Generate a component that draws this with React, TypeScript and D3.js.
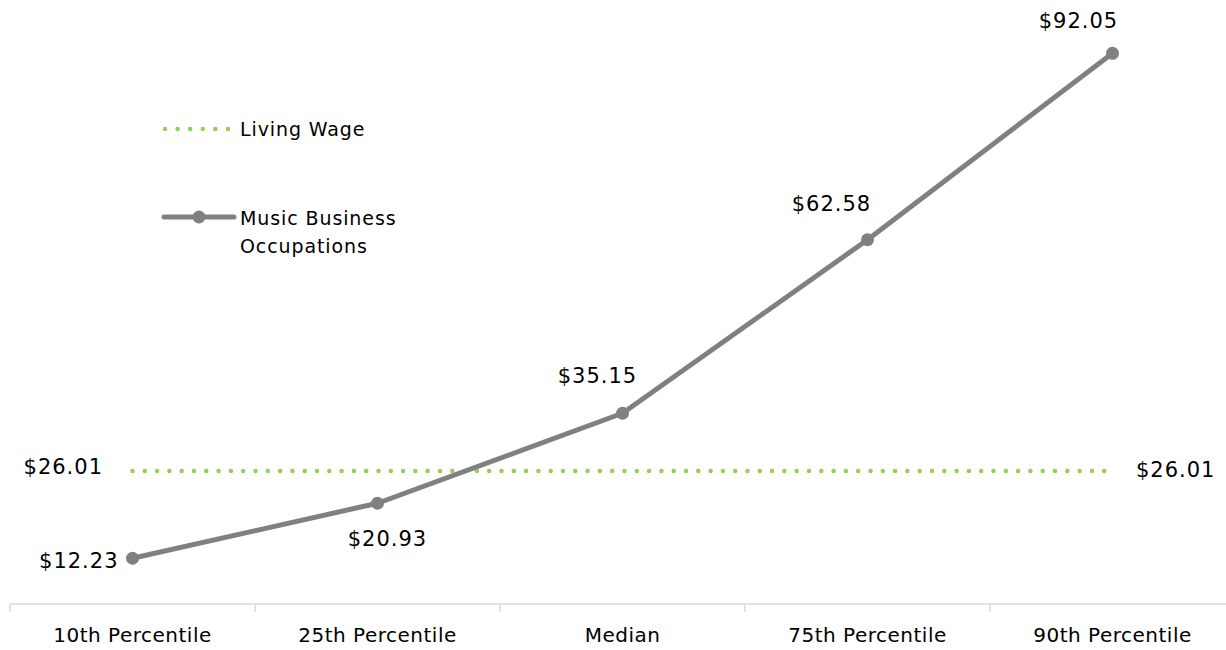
import React from "react";
import * as d3 from "d3";

const categories = ["10th Percentile", "25th Percentile", "Median", "75th Percentile", "90th Percentile"];
const musicWages = [12.23, 20.93, 35.15, 62.58, 92.05];
const livingWage = 26.01;
const seriesNames = ["Living Wage", "Music Business Occupations"];

// label offsets (styling) relative to each point: [dx, dy, anchor]
const labelOffsets: [number, number, string][] = [
  [-14, 10, "end"],
  [10, 43, "middle"],
  [-25, -30, "middle"],
  [-36, -29, "middle"],
  [-34, -25, "middle"],
];

const W = 1226;
const H = 650;
const FONT = "'DejaVu Sans', sans-serif";
const GREEN = "#92d050";
const GRAY = "#808080";

export default function App() {
  const x = d3.scaleBand().domain(categories).range([10, 1235]).paddingInner(0).paddingOuter(0);
  const y = d3.scaleLinear().domain([5, 100]).range([604, 3]);
  const cx = (c: string) => (x(c) as number) + x.bandwidth() / 2;

  const line = d3
    .line<number>()
    .x((_, i) => cx(categories[i]))
    .y((d) => y(d));

  const lwY = y(livingWage);
  const lwX0 = cx(categories[0]);
  const lwX1 = cx(categories[categories.length - 1]) - 8;

  const fmt = (v: number) => "$" + v.toFixed(2);
  const ticks = [...categories.map((c) => x(c) as number), (x(categories[4]) as number) + x.bandwidth()];

  const numStyle = { fontFamily: FONT, fontSize: 21, letterSpacing: 1, fill: "#000" } as const;
  const catStyle = { fontFamily: FONT, fontSize: 20, letterSpacing: 0.5, fill: "#000" } as const;
  const legStyle = { fontFamily: FONT, fontSize: 19, letterSpacing: 0.9, fill: "#000" } as const;

  return (
    <svg width={W} height={H} style={{ position: "absolute", left: 0, top: 0, display: "block", background: "#fff" }}>
      {/* category axis */}
      <line x1={10} x2={W} y1={y(5)} y2={y(5)} stroke="#d9d9d9" strokeWidth={1.5} />
      {ticks.map((t, i) => (
        <line key={i} x1={t} x2={t} y1={y(5)} y2={y(5) + 8} stroke="#d9d9d9" strokeWidth={1.5} />
      ))}
      {categories.map((c) => (
        <text key={c} x={cx(c)} y={642} textAnchor="middle" style={catStyle}>
          {c}
        </text>
      ))}

      {/* living wage */}
      <line
        x1={lwX0}
        x2={lwX1}
        y1={lwY}
        y2={lwY}
        stroke={GREEN}
        strokeWidth={4.5}
        strokeLinecap="round"
        strokeDasharray="0 12.3"
      />
      <text x={103} y={lwY + 3} textAnchor="end" style={numStyle}>
        {fmt(livingWage)}
      </text>
      <text x={1136} y={lwY + 6} textAnchor="start" style={numStyle}>
        {fmt(livingWage)}
      </text>

      {/* music business line */}
      <path d={line(musicWages) || ""} fill="none" stroke={GRAY} strokeWidth={5} strokeLinejoin="round" />
      {musicWages.map((v, i) => (
        <circle key={i} cx={cx(categories[i])} cy={y(v)} r={6.5} fill={GRAY} />
      ))}
      {musicWages.map((v, i) => (
        <text
          key={"l" + i}
          x={cx(categories[i]) + labelOffsets[i][0]}
          y={y(v) + labelOffsets[i][1]}
          textAnchor={labelOffsets[i][2] as any}
          style={numStyle}
        >
          {fmt(v)}
        </text>
      ))}

      {/* legend */}
      <line x1={165} x2={229} y1={129} y2={129} stroke={GREEN} strokeWidth={4.5} strokeLinecap="round" strokeDasharray="0 12.6" />
      <text x={240} y={136} style={legStyle}>
        {seriesNames[0]}
      </text>
      <line x1={164} x2={234} y1={217} y2={217} stroke={GRAY} strokeWidth={5} strokeLinecap="round" />
      <circle cx={199} cy={217} r={6.5} fill={GRAY} />
      <text x={240} y={225} style={legStyle}>
        <tspan x={240}>Music Business</tspan>
        <tspan x={240} dy={28}>Occupations</tspan>
      </text>
    </svg>
  );
}
